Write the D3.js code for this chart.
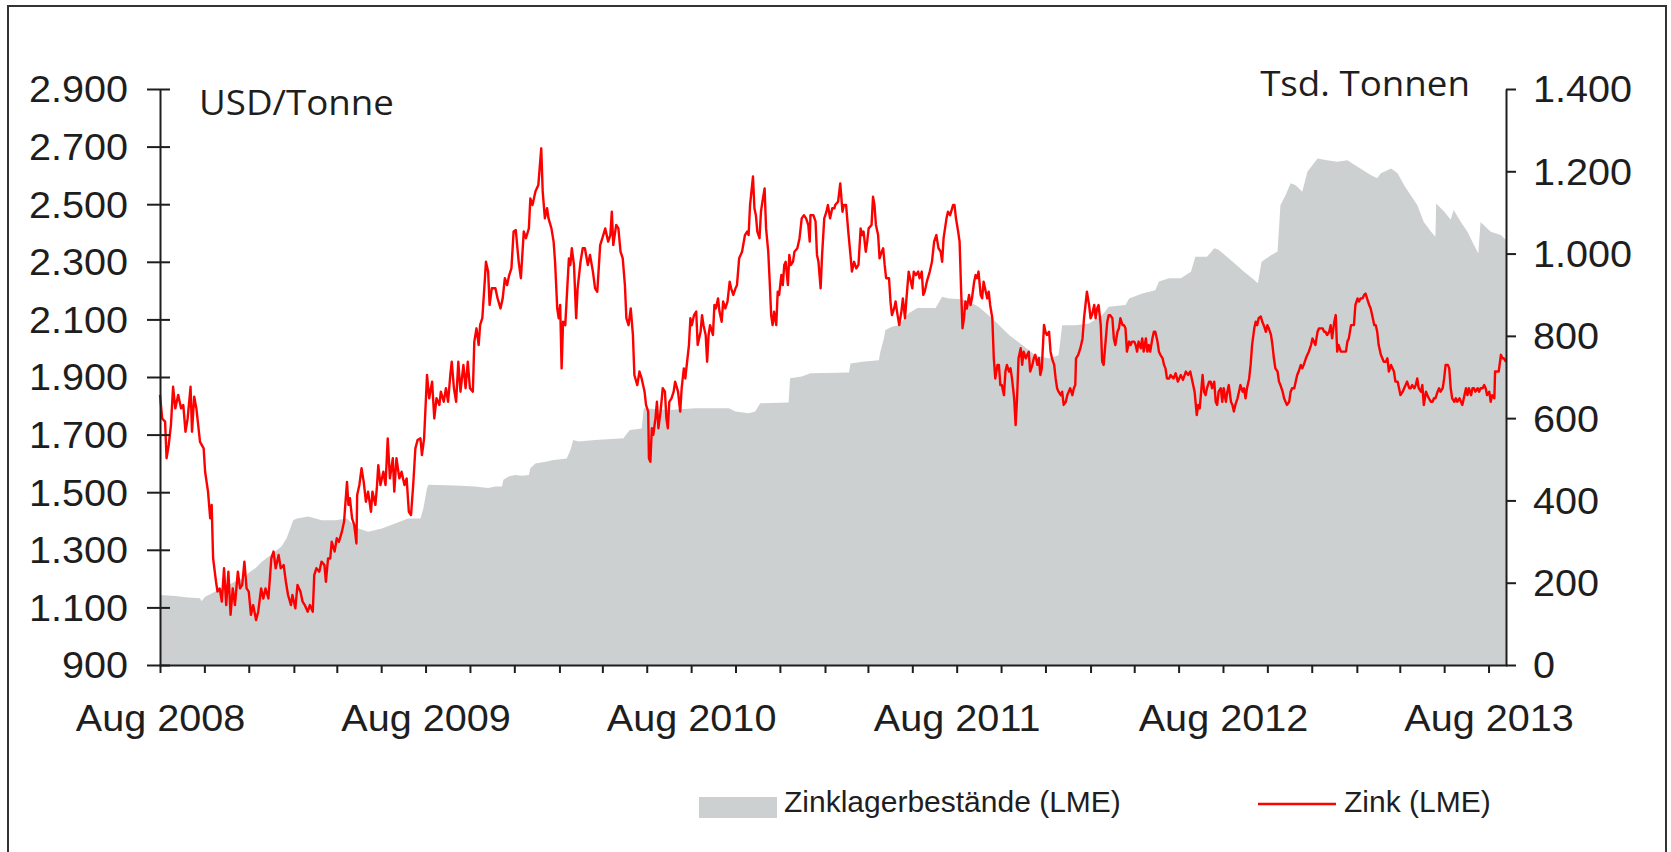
<!DOCTYPE html>
<html>
<head>
<meta charset="utf-8">
<script src="https://cdn.jsdelivr.net/npm/d3@7"></script>
<style>
  html, body { margin: 0; padding: 0; background: #fff; }
  svg { display: block; }
  .tick text, .lab { font-family: "Liberation Sans", Arial, sans-serif; fill: #1e1e1e; }
  .unit { font-family: "Open Sans", sans-serif; fill: #1e1e1e; }
</style>
</head>
<body>
<svg id="chart" width="1671" height="852"></svg>
<script>
// ---------- data ----------
const startDate = "2008-08-01";   // day 0 of the series
const endDay = 1850;              // last day shown (~ 25 Aug 2013)

// LME zinc price, USD/Tonne: [day since start, value]
const zincPrice = [
[0,1838],[3,1756],[7,1745],[9,1618],[12,1664],[15,1733],[18,1866],[21,1791],[25,1838],[29,1791],[32,1803],[35,1710],[38,1756],[42,1866],[44,1710],[47,1832],[50,1791],[55,1675],[60,1652],[62,1571],[66,1502],[69,1409],[71,1456],[73,1270],[77,1189],[79,1155],[82,1166],[85,1120],[88,1236],[91,1108],[94,1224],[97,1074],[100,1166],[103,1108],[107,1224],[110,1166],[113,1178],[116,1259],[119,1166],[122,1155],[125,1074],[128,1108],[132,1056],[135,1085],[139,1166],[142,1131],[145,1166],[149,1131],[153,1270],[156,1294],[159,1236],[163,1282],[166,1236],[170,1247],[173,1189],[176,1143],[180,1108],[182,1143],[186,1097],[189,1178],[193,1155],[196,1120],[199,1108],[203,1085],[206,1108],[210,1085],[212,1212],[215,1236],[219,1224],[222,1259],[226,1247],[228,1189],[231,1270],[234,1270],[236,1328],[240,1294],[243,1340],[246,1328],[250,1363],[253,1398],[257,1536],[259,1456],[261,1479],[264,1409],[267,1386],[270,1322],[271,1490],[274,1525],[277,1583],[280,1536],[283,1467],[286,1502],[290,1432],[292,1502],[296,1456],[298,1513],[300,1594],[303,1525],[307,1571],[310,1525],[313,1687],[316,1548],[320,1618],[322,1502],[325,1618],[329,1548],[332,1571],[336,1525],[339,1548],[342,1432],[345,1421],[348,1525],[351,1652],[354,1681],[358,1687],[360,1629],[363,1687],[367,1907],[370,1826],[374,1884],[377,1756],[380,1826],[384,1803],[386,1849],[390,1814],[393,1861],[396,1814],[399,1907],[401,1953],[404,1861],[407,1814],[410,1953],[413,1849],[417,1942],[420,1861],[423,1953],[426,1861],[430,1849],[432,2023],[435,2069],[438,2011],[440,2081],[443,2104],[446,2219],[448,2300],[451,2266],[453,2150],[456,2208],
[461,2208],[464,2173],[468,2138],[471,2173],[474,2243],[477,2219],[480,2254],[483,2277],[486,2405],[489,2410],[493,2300],[496,2243],[500,2405],[503,2382],[507,2416],[509,2520],[512,2497],[516,2544],[520,2567],[524,2694],[526,2544],[529,2451],[532,2486],[534,2451],[538,2416],[541,2370],[543,2300],[546,2138],[548,2104],[550,2150],[552,1930],[554,2092],[557,2080],[559,2173],[562,2312],[564,2289],[566,2347],[569,2289],[572,2104],[574,2208],[578,2300],[581,2347],[584,2347],[588,2289],[591,2324],[595,2266],[598,2208],[601,2196],[605,2358],[608,2382],[612,2416],[616,2370],[619,2393],[621,2474],[623,2358],[627,2428],[630,2416],[633,2335],[636,2312],[639,2219],[641,2104],[644,2080],[647,2138],[650,2046],[652,1907],[656,1872],[659,1919],[662,1895],[666,1849],[668,1803],[671,1780],[672,1618],[674,1606],[676,1722],[678,1699],[681,1757],[683,1814],[685,1722],[688,1780],[691,1861],[694,1849],[696,1757],[698,1722],[700,1814],[703,1826],[706,1849],[708,1884],[712,1849],[715,1780],[717,1861],[720,1930],[722,1895],[724,1942],[727,2011],[729,2104],[731,2080],[734,2115],[737,2127],[739,2011],[743,2057],[745,2115],[747,2080],[750,2046],[752,1953],[754,2046],[756,2080],[760,2046],[762,2150],[764,2138],[767,2173],[769,2127],[772,2092],[774,2162],[777,2138],[780,2162],[783,2231],[785,2208],[788,2185],[791,2208],[793,2219],[796,2312],[800,2335],[804,2393],[807,2405],[809,2393],[811,2497],[815,2596],[817,2486],[819,2462],[821,2405],[824,2382],[826,2474],[828,2509],[831,2555],[833,2416],[836,2335],[838,2231],[840,2115],[842,2080],[844,2127],[847,2080],[849,2196],[851,2185],[854,2254],[856,2219],[858,2289],[860,2300],[863,2219],[865,2324],[867,2289],[870,2300],[872,2335],[876,2347],[879,2382],[882,2451],[885,2462],[888,2451],[891,2428],[893,2370],[894,2462],[898,2462],[901,2440],[903,2324],[905,2300],[908,2208],[910,2324],[913,2451],[916,2474],[918,2497],[921,2451],[924,2486],[927,2486],
[928,2497],[932,2509],[935,2572],[938,2474],[940,2497],[943,2497],[946,2405],[949,2324],[951,2266],[954,2300],[957,2277],[960,2289],[963,2416],[965,2393],[967,2405],[970,2335],[972,2370],[974,2416],[978,2428],[980,2526],[982,2497],[984,2428],[987,2393],[989,2312],[992,2335],[994,2347],[996,2289],[998,2243],[1002,2243],[1004,2162],[1006,2115],[1009,2138],[1011,2162],[1013,2127],[1016,2080],[1019,2127],[1021,2173],[1024,2104],[1026,2173],[1029,2266],[1031,2243],[1034,2208],[1036,2266],[1039,2254],[1042,2266],[1044,2243],[1047,2266],[1049,2185],[1051,2196],[1054,2231],[1058,2266],[1061,2300],[1064,2370],[1067,2393],[1070,2347],[1073,2335],[1075,2300],[1077,2382],[1081,2451],[1083,2474],[1086,2462],[1090,2497],[1092,2497],[1094,2451],[1097,2405],[1099,2370],[1101,2208],[1103,2069],[1105,2104],[1107,2162],[1109,2138],[1112,2185],[1114,2150],[1116,2173],[1119,2231],[1121,2254],[1123,2243],[1125,2266],[1128,2185],[1130,2173],[1132,2231],[1135,2196],[1137,2173],[1139,2196],[1141,2150],[1144,2104],[1146,1965],[1148,1895],[1151,1942],[1153,1942],[1155,1872],[1157,1872],[1160,1837],[1162,1919],[1164,1942],[1167,1919],[1169,1930],[1171,1895],[1174,1826],[1176,1733],[1178,1826],[1180,1965],[1183,2000],[1185,1942],[1187,1988],[1190,1965],[1192,1977],[1194,1988],[1196,1919],[1199,1942],[1201,1965],[1203,1977],[1206,1942],[1208,1965],[1210,1907],[1212,1930],[1215,2081],[1217,2057],[1219,2046],[1222,2057],[1224,1988],[1226,1965],[1229,1942],[1231,1895],[1233,1861],[1235,1849],[1238,1837],[1240,1849],[1242,1803],[1245,1814],[1247,1837],[1249,1849],[1251,1861],[1254,1837],[1256,1861],[1258,1872],[1259,1965],[1262,1977],[1265,2000],[1268,2034],[1270,2104],[1272,2150],[1274,2196],[1277,2150],[1279,2104],[1281,2115],[1284,2150],[1286,2104],[1288,2138],[1290,2150],[1293,2081],[1295,1953],[1297,1942],[1300,2034],[1302,2092],[1304,2115],[1306,2115],[1309,2104],[1311,2034],[1313,2011],[1316,2057],[1318,2069],[1320,2104],[1323,2080],[1325,2080],[1327,2069],[1329,1988],[1332,2023],[1334,2011],[1336,2023],[1339,2023],[1341,2011],[1343,1988],[1345,2023],[1348,2000],[1350,2034],[1352,1988],[1355,2034],[1357,1988],[1359,2011],[1361,1988],[1364,2034],[1366,2057],[1368,2057],[1371,2023],[1373,1988],[1375,1977],[1378,1965],[1380,1942],[1382,1930],[1384,1895],[1387,1895],
[1389,1907],[1393,1895],[1396,1913],[1399,1884],[1403,1907],[1406,1890],[1410,1919],[1413,1907],[1416,1919],[1419,1884],[1422,1849],[1425,1768],[1427,1803],[1429,1791],[1433,1907],[1435,1849],[1437,1837],[1439,1861],[1442,1884],[1444,1884],[1446,1861],[1449,1884],[1451,1814],[1453,1803],[1455,1849],[1458,1861],[1460,1814],[1462,1861],[1465,1814],[1467,1849],[1469,1872],[1472,1814],[1474,1803],[1476,1780],[1478,1803],[1481,1826],[1483,1849],[1485,1872],[1488,1849],[1490,1861],[1492,1826],[1494,1861],[1497,1895],[1499,1942],[1501,2011],[1504,2069],[1506,2092],[1508,2080],[1510,2104],[1513,2110],[1515,2092],[1517,2080],[1520,2057],[1522,2080],[1524,2069],[1527,2046],[1529,2011],[1531,1965],[1533,1930],[1536,1919],[1538,1884],[1540,1872],[1543,1849],[1545,1826],[1547,1814],[1549,1803],[1552,1814],[1554,1849],[1556,1861],[1559,1861],[1561,1884],[1563,1907],[1565,1919],[1568,1942],[1570,1930],[1572,1942],[1575,1965],[1577,1977],[1579,1988],[1582,2011],[1584,2034],[1586,2023],[1588,2011],[1591,2057],[1593,2069],[1595,2069],[1598,2069],[1600,2057],[1602,2057],[1604,2046],[1607,2057],[1609,2080],[1611,2034],[1614,2092],[1616,2115],[1618,1988],[1620,2011],[1623,1988],[1625,1988],[1627,1988],[1630,1988],[1632,2023],[1634,2034],[1637,2080],[1639,2080],[1641,2080],[1643,2150],[1646,2173],[1648,2162],[1650,2173],[1653,2173],[1655,2185],[1657,2190],[1659,2173],[1662,2150],[1664,2138],[1666,2115],[1669,2080],[1671,2080],[1673,2057],[1675,2011],[1678,1977],[1680,1965],[1682,1953],[1685,1953],[1687,1965],[1689,1919],[1692,1942],[1694,1930],[1696,1919],[1698,1884],[1701,1884],[1703,1861],[1705,1837],[1708,1849],[1710,1861],[1712,1872],[1714,1884],[1717,1861],[1719,1861],[1721,1872],[1724,1861],[1726,1872],[1728,1895],[1730,1861],[1733,1849],[1735,1872],[1737,1803],[1740,1849],[1742,1837],[1744,1826],[1747,1814],[1749,1814],[1751,1826],[1753,1826],[1756,1849],[1758,1861],[1760,1849],[1763,1861],[1765,1895],[1767,1942],[1770,1942],[1772,1930],[1774,1861],[1776,1826],[1779,1814],[1781,1826],[1783,1814],[1786,1826],[1788,1814],[1790,1803],[1792,1826],[1795,1861],[1797,1837],[1799,1861],[1802,1837],[1804,1861],[1806,1861],[1808,1849],[1811,1861],[1813,1849],[1815,1861],[1818,1861],[1820,1872],[1822,1861],[1824,1837],[1827,1849],[1829,1814],[1831,1837],[1834,1826],[1835,1919],[1837,1919],[1840,1919],[1843,1977],[1845,1965],[1847,1965],[1850,1953]
];

// LME zinc stocks, thousand tonnes: [day since start, value]
const zincStocks = [
[0,170],[21,168],[39,164],[55,162],[57,155],[62,166],[71,174],[80,182],[89,190],[98,198],[108,207],[117,211],[121,223],[131,235],[140,251],[149,263],[158,275],[167,288],[174,308],[179,332],[183,352],[188,356],[204,361],[222,352],[241,352],[257,356],[264,344],[273,332],[286,324],[305,332],[323,344],[341,356],[358,356],[362,381],[367,430],[369,438],[406,436],[433,434],[451,430],[461,434],[470,434],[472,450],[479,458],[488,462],[497,460],[507,462],[509,478],[516,490],[530,494],[541,498],[559,502],[564,522],[568,547],[575,543],[598,547],[637,551],[642,563],[646,571],[662,575],[665,624],[699,620],[736,624],[782,624],[791,616],[809,612],[818,616],[825,636],[864,638],[866,697],[882,701],[894,709],[947,711],[949,733],[965,737],[988,741],[990,761],[995,794],[997,814],[1006,822],[1015,826],[1029,855],[1041,868],[1066,868],[1075,895],[1084,891],[1102,889],[1112,883],[1125,871],[1144,842],[1167,802],[1185,778],[1203,753],[1222,745],[1235,753],[1240,826],[1258,826],[1277,830],[1295,850],[1304,871],[1327,875],[1332,891],[1350,903],[1368,911],[1373,932],[1387,940],[1403,940],[1417,956],[1423,992],[1439,992],[1449,1013],[1455,1009],[1472,984],[1490,956],[1504,936],[1509,928],[1514,980],[1527,996],[1536,1005],[1540,1118],[1547,1142],[1554,1171],[1561,1166],[1570,1150],[1577,1199],[1591,1231],[1604,1227],[1618,1223],[1632,1227],[1646,1211],[1664,1191],[1673,1183],[1678,1195],[1692,1207],[1701,1195],[1710,1166],[1719,1142],[1728,1118],[1737,1077],[1747,1053],[1753,1041],[1754,1122],[1765,1102],[1774,1082],[1778,1106],[1788,1077],[1797,1053],[1806,1021],[1812,1000],[1815,1077],[1829,1053],[1843,1045],[1850,1033]
];

const leftTicks = [900, 1100, 1300, 1500, 1700, 1900, 2100, 2300, 2500, 2700, 2900];
const rightTicks = [0, 200, 400, 600, 800, 1000, 1200, 1400];
const leftUnit = "USD/Tonne";
const rightUnit = "Tsd. Tonnen";
const legendStocks = "Zinklagerbestände (LME)";
const legendPrice = "Zink (LME)";

// ---------- setup ----------
const deFmt = d3.formatLocale({decimal: ",", thousands: ".", grouping: [3], currency: ["", " €"]}).format(",d");
const enMonth = d3.timeFormat("%b %Y");
const t0 = d3.timeParse("%Y-%m-%d")(startDate);
const toDate = d => d3.timeDay.offset(t0, d);

const svg = d3.select("#chart");
const x = d3.scaleTime().domain([t0, toDate(endDay)]).range([160, 1506]);
const yL = d3.scaleLinear().domain([900, 2900]).range([665, 89]);
const yR = d3.scaleLinear().domain([0, 1400]).range([665, 89]);

const GRAY = "#cdd0d1", RED = "#ff0000", INK = "#1e1e1e";

// frame
svg.append("rect").attr("x", 8).attr("y", 6).attr("width", 1658).attr("height", 900)
  .attr("fill", "none").attr("stroke", "#333").attr("stroke-width", 2);

// stocks area
svg.append("path").datum(zincStocks)
  .attr("fill", GRAY)
  .attr("d", d3.area().x(d => x(toDate(d[0]))).y0(yR(0)).y1(d => yR(d[1])));

// price line
svg.append("path").datum(zincPrice)
  .attr("fill", "none").attr("stroke", RED).attr("stroke-width", 2.4).attr("stroke-linejoin", "round")
  .attr("d", d3.line().x(d => x(toDate(d[0]))).y(d => yL(d[1])));

function styleAxis(g) {
  g.selectAll(".domain, .tick line").attr("stroke", INK).attr("stroke-width", 2);
  g.selectAll(".tick text").attr("fill", INK).style("font-size", "36px");
}

// x axis
const xTicks = d3.timeMonth.range(t0, toDate(endDay), 2);
const gx = svg.append("g").attr("transform", "translate(0,665)")
  .call(d3.axisBottom(x).tickValues(xTicks).tickSize(8).tickSizeOuter(0).tickPadding(32)
    .tickFormat(d => d.getMonth() === 7 ? enMonth(d) : ""));
styleAxis(gx);
gx.select(".domain").attr("stroke-linecap", "square");

// left axis
const gl = svg.append("g").attr("transform", "translate(160,0)")
  .call(d3.axisLeft(yL).tickValues(leftTicks).tickSize(13).tickSizeOuter(0).tickPadding(19).tickFormat(deFmt));
styleAxis(gl);
gl.selectAll(".tick line").attr("x1", 10).attr("x2", -13);
gl.selectAll(".tick text").attr("dy", "0.36em");

// right axis
const gr = svg.append("g").attr("transform", "translate(1506,0)")
  .call(d3.axisRight(yR).tickValues(rightTicks).tickSize(10).tickSizeOuter(0).tickPadding(17).tickFormat(deFmt));
styleAxis(gr);
gr.selectAll(".tick text").attr("dy", "0.36em");

// unit labels
svg.append("text").attr("class", "unit unitL").attr("x", 199).attr("y", 115)
  .style("font-size", "34px").text(leftUnit);
svg.append("text").attr("class", "unit unitR").attr("x", 1470).attr("y", 96)
  .attr("text-anchor", "end").style("font-size", "34px").text(rightUnit);

// legend
svg.append("rect").attr("x", 699).attr("y", 797).attr("width", 78).attr("height", 21).attr("fill", GRAY);
svg.append("text").attr("class", "lab").attr("x", 784).attr("y", 812).style("font-size", "30px").text(legendStocks);
svg.append("line").attr("x1", 1258).attr("x2", 1336).attr("y1", 804).attr("y2", 804)
  .attr("stroke", RED).attr("stroke-width", 2.4);
svg.append("text").attr("class", "lab").attr("x", 1344).attr("y", 812).style("font-size", "30px").text(legendPrice);

// horizontal stretch of the text, like the reference picture
function stretch(sel, k) {
  sel.each(function () {
    const w = this.getComputedTextLength();
    if (w > 0) d3.select(this).attr("textLength", w * k).attr("lengthAdjust", "spacingAndGlyphs");
  });
}
stretch(svg.selectAll(".tick text"), 1.1);
stretch(svg.selectAll(".unit"), 1.08);
</script>
</body>
</html>
